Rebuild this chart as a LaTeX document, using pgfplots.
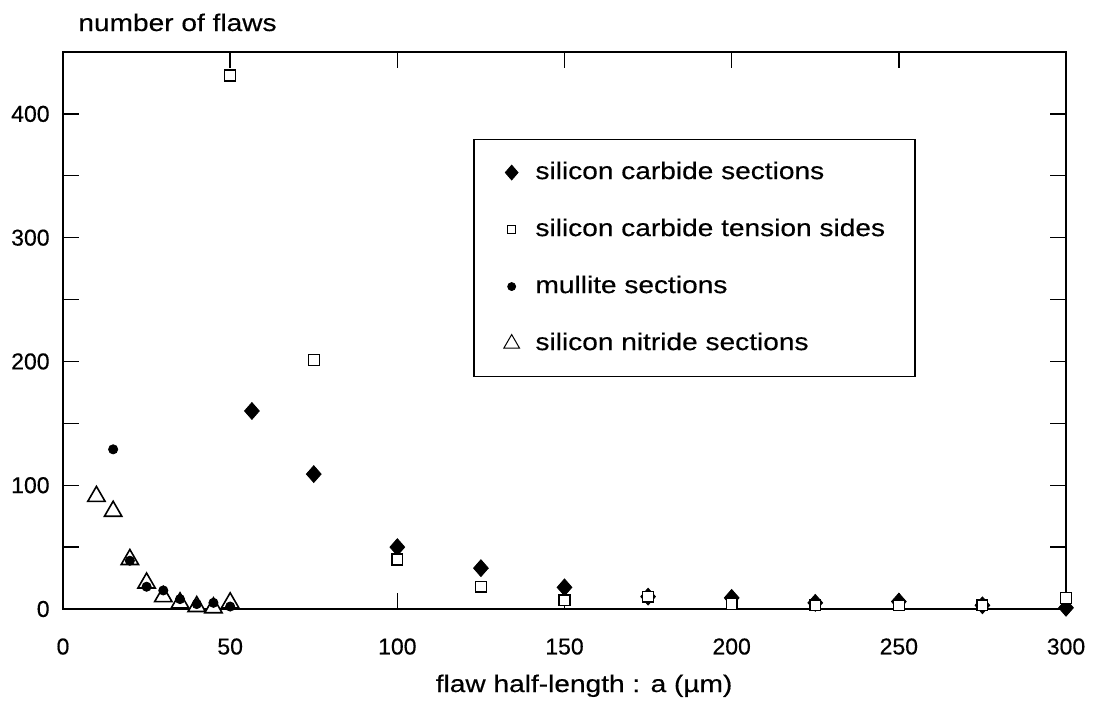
\documentclass[border=0pt]{standalone}
\usepackage{fontspec}
\setmainfont{Liberation Sans}[FakeStretch=1.17, FakeBold=0.4]
\newfontfamily\numfont{Liberation Sans}[FakeBold=0.4]
\usepackage{pgfplots}
\pgfplotsset{compat=1.18}

\begin{document}
\fontsize{12}{14}\selectfont
\begin{tikzpicture}
\begin{axis}[
    scale only axis,
    width=501.5pt, height=278.5pt,
    xmin=0, xmax=300, ymin=0, ymax=450,
    clip=false,
    xtick={0,50,...,300},
    ytick={0,100,...,400},
    minor ytick={50,150,250,350},
    tick align=inside,
    major tick length=8pt, minor tick length=8pt,
    axis line style={line width=0.75pt},
    every tick/.style={black, line width=0.7pt},
    /pgf/number format/assume math mode=true,
    ticklabel style={font=\numfont\fontsize{11.5}{13}\selectfont, inner sep=0pt},
    xticklabel style={yshift=-14.5pt},
    yticklabel style={xshift=-6.5pt},
    xlabel={flaw half-length : a (µm)},
    every axis x label/.style={at={(rel axis cs:0.5195,0)}, anchor=base, inner sep=0pt, yshift=-41.5pt},
    ylabel={number of flaws},
    every axis y label/.style={at={(rel axis cs:0,1)}, anchor=base west, inner sep=0pt, xshift=7.5pt, yshift=10.5pt},
    legend cell align=left,
    legend style={at={(rel axis cs:0.409,0.844)}, anchor=north west, draw=black,
        line width=0.65pt, inner xsep=15pt, inner ysep=10.75pt, row sep=17pt,
        nodes={inner sep=0pt, text height=9pt, text depth=2.5pt},
        /tikz/every odd column/.append style={column sep=8pt}},
]
\coordinate (SW) at (rel axis cs:0,0);
\coordinate (NE) at (rel axis cs:1,1);

\addlegendimage{only marks, mark=diamond*, mark size=3.7pt, mark options={xscale=1.15, line width=0.4pt}}
\addlegendentry{silicon carbide sections}
\addlegendimage{only marks, mark=square, mark size=1.9pt, mark options={line width=0.6pt}}
\addlegendentry{silicon carbide tension sides}
\addlegendimage{only marks, mark=*, mark size=2pt, mark options={line width=0.4pt}}
\addlegendentry{mullite sections}
\addlegendimage{only marks, mark=triangle, mark size=4.5pt, mark options={line width=0.5pt}}
\addlegendentry{silicon nitride sections}

% silicon carbide sections
\addplot[forget plot, only marks, mark=diamond*, mark size=4.2pt,
    mark options={xscale=1.17, fill=black, draw=black, line width=0.4pt}]
coordinates {(56.5,160) (75,109) (100,50) (125,33) (150,17.5) (175,10)
    (200,9) (225,5) (250,6) (275,3) (300,1)};
% silicon carbide tension sides
\addplot[forget plot, only marks, mark=square*, mark size=2.7pt,
    mark options={fill=white, draw=black, line width=0.65pt}]
coordinates {(50,431) (75,201) (100,40) (125,18) (150,7) (175,10)
    (200,4) (225,3) (250,3) (275,3) (300,9)};
% silicon nitride sections
\addplot[forget plot, only marks, mark=triangle*, mark size=5pt,
    mark options={fill=white, draw=black, line width=0.8pt}]
coordinates {(10,91) (15,79) (20,40) (25,21) (30,10) (35,5) (40,2) (45,1) (50,5)};
% mullite sections
\addplot[forget plot, only marks, mark=*, mark size=2.3pt,
    mark options={fill=black, draw=black, line width=0.4pt}]
coordinates {(15,129) (20,39) (25,18) (30,15) (35,8) (40,4) (45,5) (50,2)};
\end{axis}
\pgfresetboundingbox
\path ([shift={(-31.5pt,-46.5pt)}]SW) rectangle ([shift={(14pt,26pt)}]NE);
\end{tikzpicture}
\end{document}
